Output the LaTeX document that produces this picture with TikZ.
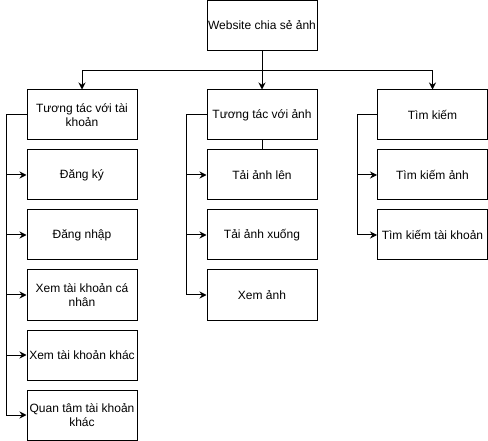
\documentclass[tikz,border=0pt]{standalone}
\usepackage{fontspec}
\setmainfont{Liberation Sans}
\usepackage{tikz}
\usetikzlibrary{arrows.meta}
\usetikzlibrary{positioning}
\tikzset{
    box/.style={draw=black, line width=1pt, rectangle, minimum width=110pt, minimum height=50pt,
        inner sep=1pt, align=center, font=\fontsize{12pt}{14pt}\selectfont},
    arr/.style={draw=black, line width=1pt, -{Stealth[length=7pt,width=7pt]}},
    link/.style={draw=black, line width=1pt},
}

\begin{document}
\begin{tikzpicture}[x=1pt,y=-1pt]
\useasboundingbox (0,0) rectangle (488,441);

\node [box] at (262,25.5) (web) {Website chia sẻ ảnh};

\node [box] at (82,115) (acc) {Tương tác với tài\\khoản};
\node [box] at (262,115) (img) {Tương tác với ảnh};
\node [box] at (432.5,115) (find) {Tìm kiếm};

% tai khoan
\node [box] at (82,175) (reg) {Đăng ký};
\node [box] at (82,235) (login) {Đăng nhập};
\node [box] at (82,295) (mine) {Xem tài khoản cá\\nhân};
\node [box] at (82,355) (other) {Xem tài khoản khác};
\node [box] at (82,415) (follow) {Quan tâm tài khoản\\khác};

% anh
\node [box] at (262,175) (up) {Tải ảnh lên};
\node [box] at (262,235) (down) {Tải ảnh xuống};
\node [box] at (262,295) (view) {Xem ảnh};

% tim kiem
\node [box] at (432.5,175) (findimg) {Tìm kiếm ảnh};
\node [box] at (432.5,235) (findacc) {Tìm kiếm tài khoản};

\draw [arr] (web.south) -- ++(0,20) -| (acc.north);
\draw [arr] (web.south) -- (img.north);
\draw [arr] (web.south) -- ++(0,20) -| (find.north);

\draw [arr] (acc.west) -- ++(-20,0) |- (reg.west);
\draw [arr] (acc.west) -- ++(-20,0) |- (login.west);
\draw [arr] (acc.west) -- ++(-20,0) |- (mine.west);
\draw [arr] (acc.west) -- ++(-20,0) |- (other.west);
\draw [arr] (acc.west) -- ++(-20,0) |- (follow.west);

\draw [link] (img.south) -- (up.north);
\draw [arr] (img.west) -- ++(-20,0) |- (up.west);
\draw [arr] (img.west) -- ++(-20,0) |- (down.west);
\draw [arr] (img.west) -- ++(-20,0) |- (view.west);

\draw [arr] (find.west) -- ++(-20,0) |- (findimg.west);
\draw [arr] (find.west) -- ++(-20,0) |- (findacc.west);

\end{tikzpicture}
\end{document}
